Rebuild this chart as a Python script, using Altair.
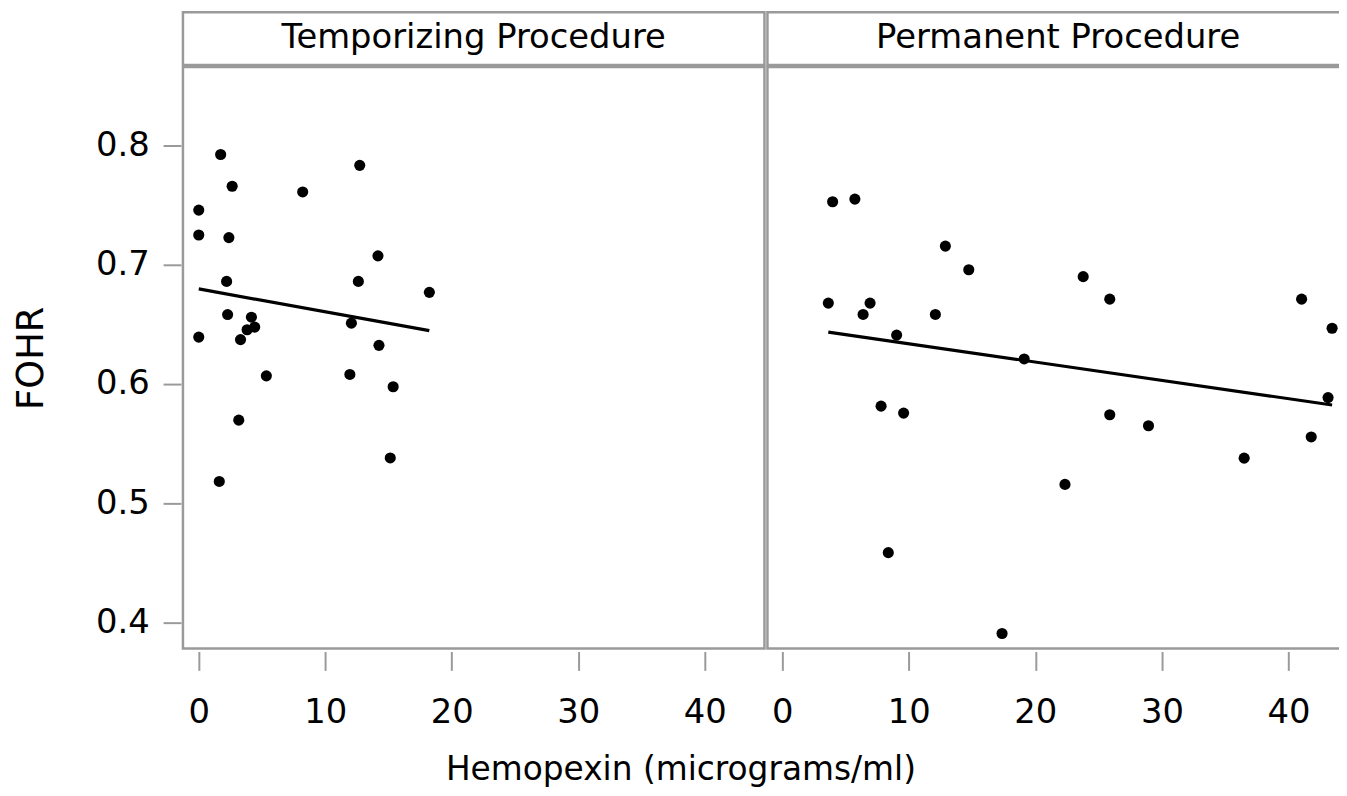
import altair as alt
import pandas as pd

panels = ["Temporizing Procedure", "Permanent Procedure"]

# Temporizing procedure points
temp_x = [1.74, 12.73, 2.65, 8.22, 0.01, 0.01, 2.39, 14.17, 2.21, 12.62, 18.23, 2.29, 4.17,
          4.43, 3.83, 12.07, 0.01, 3.31, 14.25, 5.35, 11.95, 15.37, 3.17, 15.14, 1.63]
temp_y = [0.7924, 0.7833, 0.7658, 0.761, 0.7458, 0.7249, 0.7227, 0.7074, 0.686, 0.686, 0.6768,
          0.6582, 0.656, 0.6477, 0.6455, 0.651, 0.6393, 0.6372, 0.6324, 0.6068, 0.608, 0.5977,
          0.5697, 0.538, 0.5183]

# Permanent procedure points
perm_x = [3.98, 5.74, 12.89, 14.74, 3.64, 6.94, 6.39, 12.1, 9.04, 19.12, 7.81, 9.59, 8.38,
          17.37, 23.78, 25.88, 41.04, 43.45, 43.13, 25.88, 28.94, 41.8, 36.5, 22.34]
perm_y = [0.7528, 0.755, 0.7156, 0.6958, 0.6678, 0.6678, 0.6583, 0.6583, 0.641, 0.621, 0.5814,
          0.5756, 0.4586, 0.3908, 0.69, 0.6711, 0.6711, 0.6467, 0.5886, 0.5742, 0.565, 0.5556,
          0.5378, 0.5158]

# Fitted lines (end points)
fit_temp_x = [0.01, 18.23]
fit_temp_y = [0.6797, 0.6447]
fit_perm_x = [3.64, 43.45]
fit_perm_y = [0.6435, 0.5824]

x_ticks = [0, 10, 20, 30, 40]
y_ticks = [0.4, 0.5, 0.6, 0.7, 0.8]
x_domain_left = [-1.24, 44.71]
x_domain_right = [-1.17, 44.78]
y_domain = [0.37825, 0.86575]

W, H, HH = 585, 585, 53
FONT = "DejaVu Sans"
GRAY = "#9a9a9a"
VIEW = alt.ViewBackground(stroke=GRAY, strokeWidth=2.5, fill="white")


def panel(xs, ys, fx, fy, show_y, x_domain):
    pts = pd.DataFrame({"x": xs, "y": ys})
    fit = pd.DataFrame({"x": fx, "y": fy})
    xenc = alt.X("x:Q", scale=alt.Scale(domain=x_domain, nice=False, zero=False),
                 axis=alt.Axis(values=x_ticks, title=None, domain=False, grid=False,
                               tickSize=19, tickWidth=2, tickColor=GRAY, offset=3,
                               labelFontSize=34, labelFont=FONT, labelColor="black",
                               labelPadding=25, labelFlush=False, labelOverlap=False))
    if show_y:
        yaxis = alt.Axis(values=y_ticks, title="FOHR", format=".1f", domain=False, grid=False,
                         tickSize=18, tickWidth=2, tickColor=GRAY, offset=2,
                         labelFontSize=34, labelFont=FONT, labelColor="black",
                         labelPadding=14, labelFlush=False, labelOverlap=False,
                         titleFontSize=37, titleFont=FONT, titleFontWeight="normal",
                         titleColor="black", titlePadding=45)
        yenc = alt.Y("y:Q", scale=alt.Scale(domain=y_domain, nice=False, zero=False), axis=yaxis)
    else:
        yenc = alt.Y("y:Q", scale=alt.Scale(domain=y_domain, nice=False, zero=False), axis=None)
    p = alt.Chart(pts).mark_circle(size=125, color="black", opacity=1).encode(x=xenc, y=yenc)
    l = alt.Chart(fit).mark_line(color="black", strokeWidth=3.2).encode(x=xenc, y=yenc)
    return alt.layer(l, p).properties(width=W, height=H, view=VIEW)


def header(name):
    return alt.Chart(pd.DataFrame({"label": [name]})).mark_text(
        font=FONT, fontSize=34, color="black", baseline="middle", dy=-1
    ).encode(text="label:N").properties(width=W, height=HH, view=VIEW)


chart = alt.concat(
    header(panels[0]), header(panels[1]),
    panel(temp_x, temp_y, fit_temp_x, fit_temp_y, True, x_domain_left),
    panel(perm_x, perm_y, fit_perm_x, fit_perm_y, False, x_domain_right),
    columns=2,
    spacing=alt.RowColnumber(row=2, column=3),
    bounds="flush",
    align="each",
).properties(
    title=alt.TitleParams("Hemopexin (micrograms/ml)", orient="bottom", anchor="middle",
                          fontSize=33, font=FONT, fontWeight="normal", color="black", offset=24),
    autosize=alt.AutoSizeParams(type="none"),
    padding={"left": 176, "top": 2, "right": 1163, "bottom": 778},
)

chart.save("out.html", embed_options={"renderer": "svg", "actions": False})
